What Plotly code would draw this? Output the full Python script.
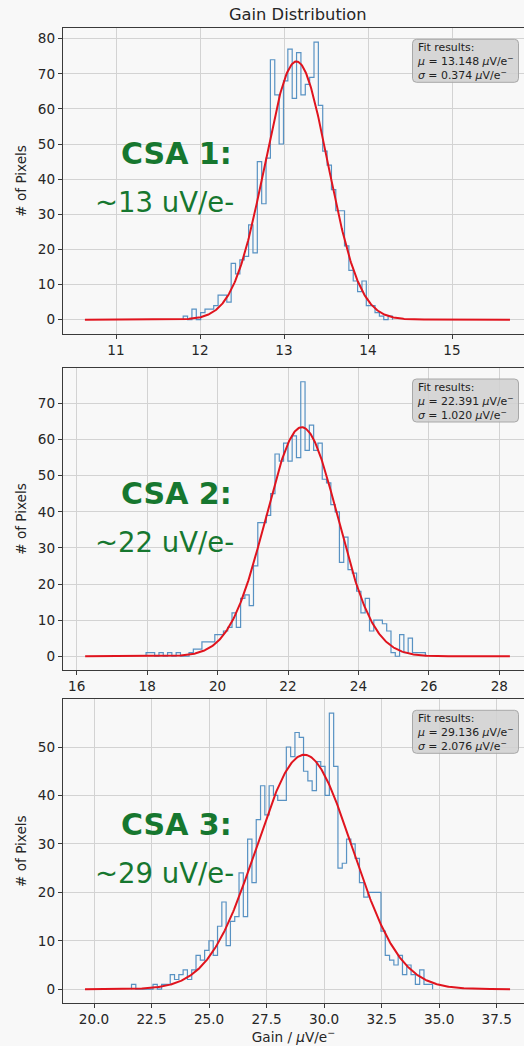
import numpy as np
import plotly.graph_objects as go

# ---- fit results per front-end channel ----
csa_names = ["CSA 1:", "CSA 2:", "CSA 3:"]
gain_notes = ["~13 uV/e-", "~22 uV/e-", "~29 uV/e-"]
fit_mu = [13.148, 22.391, 29.136]
fit_sigma = [0.374, 1.020, 2.076]
fit_amp = [73.5, 63.4, 48.4]
fit_lo = [10.63, 16.24, 19.61]
fit_hi = [15.69, 28.30, 38.08]

# ---- histogram binning: first edge, bin width, counts ----
hist_start = [11.80, 17.97, 21.63]
hist_width = [0.0519, 0.122, 0.1869]

counts_csa1 = [1, 0, 3, 0, 2, 3, 3, 4, 7, 7, 5, 16, 13, 17, 18, 27, 19, 45, 33, 46,
               74, 64, 50, 68, 77, 63, 76, 64, 67, 69, 79, 61, 48, 44, 37, 31, 31, 21,
               14, 11, 8, 11, 4, 4, 2, 1, 0, 1]
counts_csa2 = [1, 1, 0, 1, 0, 1, 0, 1, 0, 0, 1, 2, 2, 4, 4, 4, 6, 6, 7, 8,
               12, 8, 16, 17, 14, 25, 37, 37, 39, 45, 56, 54, 59, 54, 61, 55, 76, 57,
               64, 57, 59, 49, 48, 42, 40, 26, 33, 24, 23, 18, 12, 16, 7, 10, 10, 9,
               7, 1, 0, 6, 1, 5, 1, 1, 1]
counts_csa3 = [1, 0, 0, 0, 0, 1, 0, 1, 1, 3, 2, 3, 4, 2, 4, 7, 6, 8, 10, 7,
               13, 18, 9, 14, 15, 24, 15, 31, 22, 35, 42, 36, 42, 40, 39, 39, 50, 48,
               53, 52, 45, 43, 41, 47, 46, 40, 57, 46, 25, 26, 31, 30, 27, 22, 19, 20,
               20, 20, 12, 7, 6, 5, 7, 3, 5, 3, 1, 4, 1, 1]
all_counts = [counts_csa1, counts_csa2, counts_csa3]

# ---- axes ----
x_ticks = [[11, 12, 13, 14, 15],
           [16, 18, 20, 22, 24, 26, 28],
           [20.0, 22.5, 25.0, 27.5, 30.0, 32.5, 35.0, 37.5]]
x_tick_text = [["11", "12", "13", "14", "15"],
               ["16", "18", "20", "22", "24", "26", "28"],
               ["20.0", "22.5", "25.0", "27.5", "30.0", "32.5", "35.0", "37.5"]]
y_ticks = [list(range(0, 81, 10)), list(range(0, 71, 10)), list(range(0, 51, 10))]
x_view = [[10.369, 15.857], [15.611, 28.701], [18.653, 38.686]]
y_view = [[-3.95, 82.95], [-3.8, 79.8], [-2.85, 59.85]]

W, H = 524, 1046
panel_px = [(28.3, 333.5), (368.0, 670.0), (699.3, 1003.0)]  # top, bottom in pixels
left_px = 63.0

BG = "#f8f8f8"
SPINE = "#3a3a3a"
GRID = "#d3d3d3"
TXT = "#262626"
GREEN = "#16772f"
FONT = "DejaVu Sans"

fig = go.Figure()

for k in range(3):
    xa = "x" if k == 0 else f"x{k + 1}"
    ya = "y" if k == 0 else f"y{k + 1}"
    counts = all_counts[k]
    edges = hist_start[k] + hist_width[k] * np.arange(len(counts) + 1)
    xs = np.concatenate([[edges[0]], edges])
    ys = np.concatenate([[0], counts, [0]])
    fig.add_trace(go.Scatter(x=xs, y=ys, mode="lines", line_shape="hv",
                             line=dict(color="rgba(60,128,186,0.85)", width=1.2),
                             xaxis=xa, yaxis=ya, showlegend=False, hoverinfo="skip"))
    xf = np.linspace(fit_lo[k], fit_hi[k], 600)
    yf = fit_amp[k] * np.exp(-0.5 * ((xf - fit_mu[k]) / fit_sigma[k]) ** 2)
    fig.add_trace(go.Scatter(x=xf, y=yf, mode="lines",
                             line=dict(color="#e0141e", width=2),
                             xaxis=xa, yaxis=ya, showlegend=False, hoverinfo="skip"))

layout = dict(
    width=W, height=H,
    margin=dict(l=0, r=0, t=0, b=0),
    paper_bgcolor=BG, plot_bgcolor=BG,
    font=dict(family=FONT, size=13.6, color=TXT),
    showlegend=False,
)


def rounded_box(x0, y0, x1, y1, r):
    """SVG path of a rounded rectangle, given pixel corners, in paper units."""
    px = lambda v: v / W
    py = lambda v: 1 - v / H
    return (f"M {px(x0 + r)},{py(y0)} L {px(x1 - r)},{py(y0)} "
            f"Q {px(x1)},{py(y0)} {px(x1)},{py(y0 + r)} "
            f"L {px(x1)},{py(y1 - r)} Q {px(x1)},{py(y1)} {px(x1 - r)},{py(y1)} "
            f"L {px(x0 + r)},{py(y1)} Q {px(x0)},{py(y1)} {px(x0)},{py(y1 - r)} "
            f"L {px(x0)},{py(y0 + r)} Q {px(x0)},{py(y0)} {px(x0 + r)},{py(y0)} Z")


annotations = []
shapes = []
for k in range(3):
    top, bot = panel_px[k]
    dom_y = [1 - bot / H, 1 - top / H]
    xkey = "xaxis" if k == 0 else f"xaxis{k + 1}"
    ykey = "yaxis" if k == 0 else f"yaxis{k + 1}"
    ya = "y" if k == 0 else f"y{k + 1}"
    xa = "x" if k == 0 else f"x{k + 1}"
    layout[xkey] = dict(
        domain=[left_px / W, 1], range=x_view[k], anchor=ya,
        tickmode="array", tickvals=x_ticks[k], ticktext=x_tick_text[k],
        showline=True, linecolor=SPINE, linewidth=1.3, mirror=True,
        ticks="outside", ticklen=4, tickwidth=1, tickcolor=SPINE,
        showgrid=True, gridcolor=GRID, gridwidth=1, zeroline=False,
        tickfont=dict(family=FONT, size=13.6, color=TXT),
    )
    layout[ykey] = dict(
        domain=dom_y, range=y_view[k], anchor=xa,
        tickmode="array", tickvals=y_ticks[k],
        showline=True, linecolor=SPINE, linewidth=1.3, mirror=False,
        ticks="outside", ticklen=4, tickwidth=1, tickcolor=SPINE,
        showgrid=True, gridcolor=GRID, gridwidth=1, zeroline=False,
        tickfont=dict(family=FONT, size=13.6, color=TXT),
        title=dict(text="# of Pixels", font=dict(family=FONT, size=13.6, color=TXT),
                   standoff=8),
    )
    if k == 2:
        layout[xkey]["title"] = dict(text="Gain / <i>μ</i>V/e<sup>−</sup>",
                                     font=dict(family=FONT, size=13.6, color=TXT),
                                     standoff=4)

    # fit summary box (rounded frame + text)
    bx0, bx1 = 412.5, 518.5
    by0, by1 = top + 11, top + 54
    shapes.append(dict(type="path", xref="paper", yref="paper",
                       path=rounded_box(bx0, by0, bx1, by1, 4),
                       fillcolor="rgba(208,208,208,0.85)",
                       line=dict(color="#a8a8a8", width=1), layer="above"))
    annotations.append(dict(
        xref="paper", yref="paper", x=(bx0 + 3) / W, y=1 - (by0 + 1) / H,
        xanchor="left", yanchor="top", align="left", showarrow=False,
        text=(f"Fit results:<br><i>μ</i> = {fit_mu[k]:.3f} <i>μ</i>V/e<sup>−</sup>"
              f"<br><i>σ</i> = {fit_sigma[k]:.3f} <i>μ</i>V/e<sup>−</sup>"),
        font=dict(family=FONT, size=10.9, color="#222222"),
        borderpad=0,
    ))
    # channel labels
    annotations.append(dict(
        xref="paper", yref="paper", x=176 / W, y=1 - (top + 125) / H,
        xanchor="center", yanchor="middle", showarrow=False,
        text=f"<b>{csa_names[k]}</b>",
        font=dict(family=FONT, size=30, color=GREEN),
    ))
    annotations.append(dict(
        xref="paper", yref="paper", x=164 / W, y=1 - (top + 174) / H,
        xanchor="center", yanchor="middle", showarrow=False,
        text=gain_notes[k],
        font=dict(family=FONT, size=27.5, color=GREEN),
    ))

annotations.append(dict(
    xref="paper", yref="paper", x=297.5 / W, y=1 - 15 / H,
    xanchor="center", yanchor="middle", showarrow=False,
    text="Gain Distribution", font=dict(family=FONT, size=16.3, color=TXT),
))
layout["annotations"] = annotations
layout["shapes"] = shapes

fig.update_layout(**layout)
fig.write_html("out.html")
